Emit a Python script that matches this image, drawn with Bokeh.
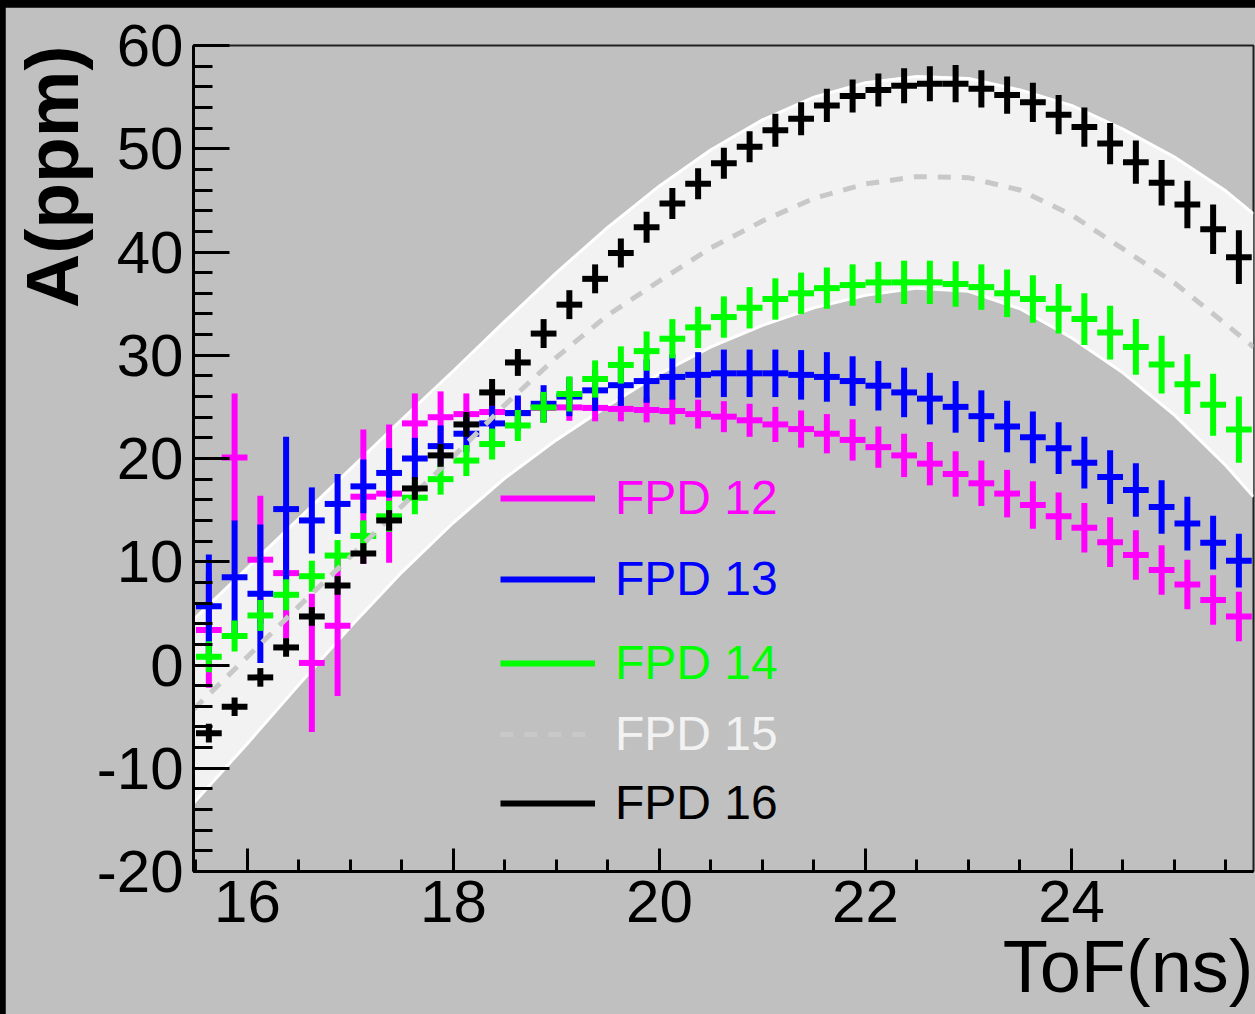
import numpy as np
from bokeh.plotting import figure
from bokeh.models import (Range1d, SingleIntervalTicker, Legend, LegendItem,
                          PrintfTickFormatter, Title)
from bokeh.layouts import column
from bokeh.embed import file_html
from bokeh.resources import INLINE

# ---------------- data ----------------
tof = [15.625, 15.875, 16.125, 16.375, 16.625, 16.875, 17.125, 17.375, 17.625, 17.875,
       18.125, 18.375, 18.625, 18.875, 19.125, 19.375, 19.625, 19.875, 20.125, 20.375,
       20.625, 20.875, 21.125, 21.375, 21.625, 21.875, 22.125, 22.375, 22.625, 22.875,
       23.125, 23.375, 23.625, 23.875, 24.125, 24.375, 24.625, 24.875, 25.125, 25.375,
       25.625]
half_bin = 0.125

fpd12 = [3.4, 20.1, 10.2, 8.9, 0.2, 3.8, 16.3, 16.6, 23.4, 24.0,
         24.3, 24.5, 24.4, 24.9, 24.95, 24.9, 24.8, 24.7, 24.6, 24.3,
         24.05, 23.7, 23.3, 22.85, 22.4, 21.8, 21.1, 20.3, 19.5, 18.5,
         17.6, 16.6, 15.5, 14.4, 13.3, 11.9, 10.65, 9.2, 7.8, 6.3,
         4.7]
fpd12_err = [5.6, 6.2, 6.2, 6.3, 6.7, 6.8, 6.5, 6.7, 2.9, 2.5,
             2.0, 1.7, 1.5, 1.4, 1.3, 1.3, 1.2, 1.2, 1.3, 1.4,
             1.5, 1.6, 1.7, 1.8, 1.9, 2.0, 2.0, 2.1, 2.1, 2.2,
             2.2, 2.3, 2.3, 2.3, 2.4, 2.4, 2.4, 2.4, 2.4, 2.4,
             2.4]

fpd13 = [5.7, 8.5, 6.9, 15.1, 14.0, 15.6, 17.3, 18.6, 20.0, 21.2,
         22.4, 23.4, 24.4, 25.3, 26.0, 26.6, 27.1, 27.5, 27.9, 28.1,
         28.25, 28.25, 28.25, 28.1, 27.9, 27.5, 27.05, 26.4, 25.8, 25.0,
         24.1, 23.1, 22.05, 21.0, 19.6, 18.2, 16.95, 15.3, 13.7, 11.85,
         10.1]
fpd13_err = [5.0, 5.5, 6.7, 7.0, 3.2, 2.9, 2.6, 2.4, 2.0, 2.0,
             1.8, 1.7, 1.7, 1.8, 1.9, 2.0, 2.0, 2.1, 2.2, 2.2,
             2.3, 2.3, 2.3, 2.4, 2.4, 2.4, 2.4, 2.4, 2.5, 2.5,
             2.5, 2.5, 2.5, 2.5, 2.5, 2.6, 2.6, 2.6, 2.6, 2.6,
             2.6]

fpd14 = [0.8, 2.8, 4.8, 6.8, 8.6, 10.6, 12.5, 14.4, 16.2, 18.0,
         19.8, 21.4, 23.2, 24.95, 26.25, 27.7, 29.06, 30.4, 31.6, 32.7,
         33.7, 34.6, 35.45, 36.0, 36.5, 36.8, 37.05, 37.06, 37.06, 36.9,
         36.6, 36.0, 35.45, 34.5, 33.5, 32.2, 30.8, 29.1, 27.2, 25.2,
         22.8]
fpd14_err = [1.5, 1.5, 1.5, 1.5, 1.5, 1.5, 1.5, 1.5, 1.6, 1.5,
             1.5, 1.5, 1.5, 1.5, 1.7, 1.8, 1.8, 1.9, 1.9, 2.0,
             2.0, 2.0, 2.0, 2.0, 2.0, 2.0, 2.0, 2.1, 2.1, 2.2,
             2.2, 2.3, 2.3, 2.4, 2.5, 2.6, 2.7, 2.8, 2.9, 3.0,
             3.2]

fpd16 = [-6.6, -4.05, -1.2, 1.7, 4.7, 7.7, 10.8, 14.0, 17.1, 20.3,
         23.3, 26.4, 29.3, 32.1, 34.9, 37.4, 39.9, 42.4, 44.7, 46.6,
         48.6, 50.2, 51.8, 52.9, 54.2, 55.1, 55.7, 56.1, 56.3, 56.3,
         55.8, 55.2, 54.5, 53.3, 52.1, 50.5, 48.7, 46.7, 44.6, 42.2,
         39.5]
fpd16_err = [0.9, 0.9, 0.9, 0.9, 0.9, 0.9, 1.0, 1.0, 1.1, 1.1,
             1.2, 1.3, 1.3, 1.4, 1.4, 1.4, 1.4, 1.5, 1.5, 1.5,
             1.5, 1.5, 1.6, 1.6, 1.6, 1.6, 1.6, 1.7, 1.7, 1.8,
             1.8, 1.8, 1.9, 1.9, 1.9, 2.0, 2.1, 2.2, 2.3, 2.4,
             2.6]

# FPD 15 curve (dashed) and the light band around it
curve_x = [15.476, 16.0, 16.5, 17.0, 17.5, 18.0, 18.5, 19.0, 19.5, 20.0, 20.5,
           21.0, 21.5, 22.0, 22.5, 23.0, 23.5, 24.0, 24.5, 25.0, 25.5, 25.767]
fpd15 = [-4.3, 0.8, 5.7, 10.5, 15.4, 20.2, 25.2, 29.8, 33.9, 37.2, 40.4,
         43.0, 45.2, 46.6, 47.3, 47.2, 46.0, 43.6, 40.3, 37.0, 33.0, 30.8]
band_upper = [4.4, 9.4, 14.2, 19.0, 23.8, 28.5, 33.3, 38.0, 42.4, 46.4, 49.9,
              52.8, 55.0, 56.4, 57.0, 56.8, 55.7, 54.2, 51.9, 49.2, 45.9, 43.7]
band_lower = [-13.4, -7.6, -1.9, 3.7, 9.0, 13.8, 18.1, 21.8, 25.1, 28.2, 30.8,
              32.9, 34.6, 35.8, 36.5, 36.2, 34.5, 31.7, 28.3, 24.2, 19.3, 16.3]

x_ticks_interval = 2
y_ticks_interval = 10

# ---------------- figure ----------------
GRAY = "#c0c0c0"
p = figure(width=1250, height=1007,
           x_range=Range1d(15.476, 25.767), y_range=Range1d(-20, 60),
           output_backend="svg", toolbar_location=None,
           min_border_left=188, min_border_right=2, min_border_top=38, min_border_bottom=143,
           background_fill_color=GRAY, border_fill_color=GRAY,
           outline_line_color="#202020", outline_line_width=2)
p.margin = (7, 0, 0, 5)
p.grid.visible = False

for ax, ticker, tin, mtin, stand in (
        (p.xaxis[0], SingleIntervalTicker(interval=x_ticks_interval, num_minor_ticks=4), 23, 12, 9),
        (p.yaxis[0], SingleIntervalTicker(interval=y_ticks_interval, num_minor_ticks=5), 36, 19, 10)):
    ax.ticker = ticker
    ax.formatter = PrintfTickFormatter(format="%d")
    ax.major_tick_in = tin
    ax.major_tick_out = 0
    ax.minor_tick_in = mtin
    ax.minor_tick_out = 0
    ax.major_tick_line_width = 3
    ax.minor_tick_line_width = 3
    ax.axis_line_width = 3
    ax.axis_line_color = "black"
    ax.major_label_text_font = "Liberation Sans"
    ax.major_label_text_font_size = "60px"
    ax.major_label_text_color = "black"
    ax.major_label_standoff = stand

# axis titles, placed at the far end of each axis
p.add_layout(Title(text="ToF(ns)", align="right", vertical_align="top", standoff=0, offset=0,
                   text_font="Liberation Sans", text_font_size="74px",
                   text_font_style="normal", text_color="black"), "below")
p.add_layout(Title(text="A(ppm)", align="right", vertical_align="bottom", standoff=0, offset=0,
                   text_font="Liberation Sans", text_font_size="75px",
                   text_font_style="bold", text_color="black"), "left")

# band
p.varea(x=curve_x, y1=band_lower, y2=band_upper, fill_color="#f2f2f2")
p.line(curve_x, band_upper, line_color="white", line_width=3)
p.line(curve_x, band_lower, line_color="white", line_width=3)

xs = np.array(tof)


def crosses(vals, errs, color, lw=6):
    ys = np.array(vals)
    es = np.array(errs)
    h = p.segment(x0=xs - half_bin, y0=ys, x1=xs + half_bin, y1=ys,
                  line_color=color, line_width=lw, line_cap="butt")
    p.segment(x0=xs, y0=ys - es, x1=xs, y1=ys + es,
              line_color=color, line_width=lw, line_cap="butt")
    return h


r12 = crosses(fpd12, fpd12_err, "#ff00ff")
r13 = crosses(fpd13, fpd13_err, "#0000ff")
r14 = crosses(fpd14, fpd14_err, "#00ff00")
r15 = p.line(curve_x, fpd15, line_color="#c8c8c8", line_width=5, line_dash="13 11")
r16 = crosses(fpd16, fpd16_err, "#000000")

# legends (one per entry so each label keeps its own colour)
entries = [("FPD 12", r12, "#ff00ff", 346),
           ("FPD 13", r13, "#0000ff", 265),
           ("FPD 14", r14, "#00ff00", 181),
           ("FPD 15", r15, "#f2f2f2", 110),
           ("FPD 16", r16, "#000000", 41)]
for label, r, tc, vy in entries:
    leg = Legend(items=[LegendItem(label=label, renderers=[r])],
                 location=(307, vy), glyph_width=95, glyph_height=30,
                 label_standoff=20, label_height=30,
                 label_text_font="Liberation Sans", label_text_font_size="48px",
                 label_text_color=tc, background_fill_alpha=0, border_line_alpha=0,
                 padding=0, margin=0, spacing=0)
    p.add_layout(leg)

root = column(p, styles={"background-color": "black"})
open("out.html", "w").write(file_html(root, INLINE))
